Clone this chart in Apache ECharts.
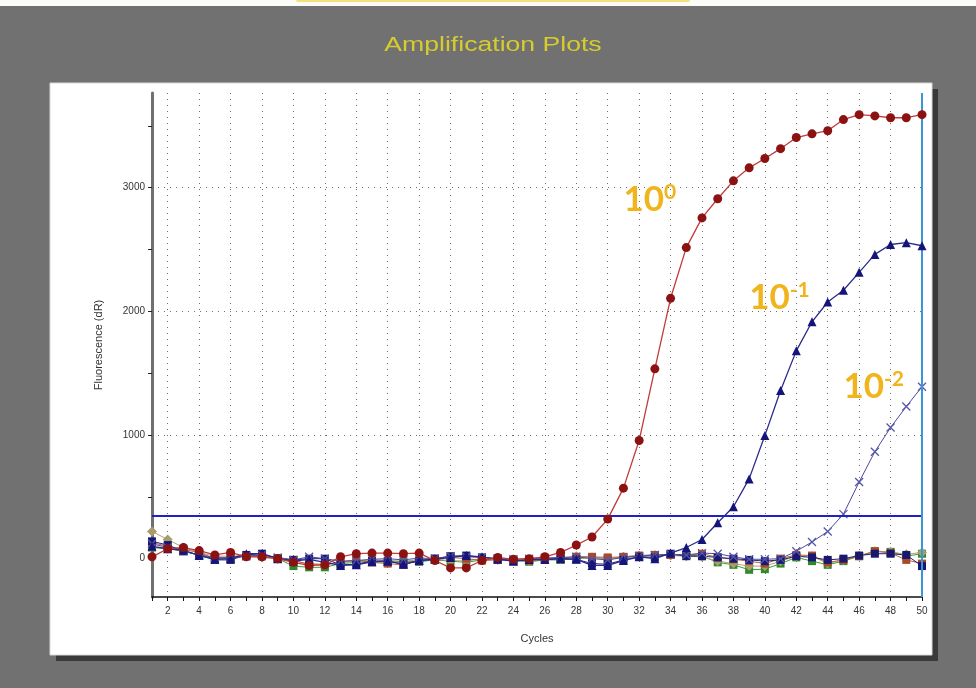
<!DOCTYPE html>
<html>
<head>
<meta charset="utf-8">
<title>Amplification Plots</title>
<script src="https://cdn.jsdelivr.net/npm/echarts@6/dist/echarts.min.js"></script>
<style>
  html, body { margin: 0; padding: 0; background: #717171; }
  #chart { width: 976px; height: 688px; }
</style>
</head>
<body>
<div id="chart"></div>
<script>
// cycles on the x axis
var cycles = ['1', '2', '3', '4', '5', '6', '7', '8', '9', '10',
  '11', '12', '13', '14', '15', '16', '17', '18', '19', '20',
  '21', '22', '23', '24', '25', '26', '27', '28', '29', '30',
  '31', '32', '33', '34', '35', '36', '37', '38', '39', '40',
  '41', '42', '43', '44', '45', '46', '47', '48', '49', '50']

var yLabelValues = [0, 1000, 2000, 3000]
var yTickValues = [0, 500, 1000, 1500, 2000, 2500, 3000, 3500]
var threshold = 350

// 10^0 dilution (red circles)
var dil0 = [15, 80, 90, 65, 30, 50, 15, 15, 0, -30,
  -55, -50, 15, 40, 45, 45, 40, 45, -15, -75,
  -75, -15, 10, -5, 0, 15, 50, 110, 175, 320,
  570, 955, 1535, 2105, 2515, 2755, 2910, 3055, 3160, 3235,
  3315, 3405, 3435, 3460, 3550, 3590, 3580, 3565, 3565, 3590]

// 10^-1 dilution (navy triangles)
var dil1 = [100, 80, 70, 25, -5, 0, 40, 40, 0, -20,
  -5, -30, -55, -50, -25, -20, -45, -15, -5, 10,
  25, 15, -5, -20, -5, -5, 0, -5, -55, -55,
  -15, 15, 0, 45, 90, 155, 290, 420, 645, 995,
  1360, 1680, 1915, 2075, 2170, 2315, 2460, 2540, 2555, 2530]

// 10^-2 dilution (crosses)
var dil2 = [120, 90, 60, 30, 10, 5, 20, 30, 10, -10,
  15, 0, -20, -15, -5, 0, -10, 5, 0, 20,
  15, 10, 0, -5, 0, 5, 10, 15, 0, -10,
  10, 20, 30, 35, 30, 45, 40, 15, -5, -5,
  0, 60, 135, 220, 360, 620, 865, 1060, 1230, 1390]

// negative wells
var ntcGreen = [90, 80, 60, 30, 0, 10, 20, 20, 0, -60,
  -70, -70, -40, -30, -20, -30, -20, -25, -10, -20,
  -30, -10, 0, -15, -25, -10, -10, 0, 10, 0,
  10, 20, 25, 30, 30, 20, -30, -50, -90, -85,
  -40, 10, -20, -50, -20, 20, 60, 55, 20, 40]

var ntcKhaki = [220, 155, 90, 50, 20, 20, 25, 10, 0, -20,
  -40, -45, -30, -20, -10, -15, -20, -10, -5, -15,
  -20, 0, -10, -15, -20, -5, -5, 20, 10, -5,
  15, 25, 30, 25, 20, 15, -20, -40, -60, -60,
  -20, 20, 20, -40, -10, 25, 60, 55, 35, 50]

var ntcBrown = [130, 100, 75, 50, 0, 10, 20, 20, 5, -10,
  -50, -50, -30, -10, -30, -40, -50, -10, 0, 10,
  0, -15, -10, -10, -15, 0, 5, 15, 15, 10,
  15, 25, 30, 30, 25, 40, 10, -5, -20, -40,
  0, 30, 25, -30, -10, 20, 60, 45, -10, -40]

var ntcNavy = [140, 110, 60, 30, -10, -10, 30, 40, 0, -10,
  0, 0, -50, -45, -20, -20, -45, -20, 0, 20,
  25, 10, 0, -20, -10, -10, 0, -5, -40, -45,
  -10, 15, 10, 40, 20, 20, 10, 0, -10, -20,
  -10, 20, 10, -10, 0, 25, 40, 40, 30, -60]

var gold = '#f0b41c'
var gridDots = { color: '#6e6e6e', type: [1, 5], width: 1 }
var crossPath = 'path://M0,0L10,10M10,0L0,10'

function curve(name, data, symbol, size, fill, line) {
  return {
    name: name,
    type: 'line',
    data: data,
    symbol: symbol,
    symbolSize: size,
    showSymbol: true,
    animation: false,
    itemStyle: { color: fill },
    lineStyle: { color: line, width: 1 }
  }
}

function dilutionLabel(coord, power) {
  return {
    symbol: 'circle',
    symbolSize: 1,
    itemStyle: { color: 'rgba(0,0,0,0)' },
    label: {
      show: true,
      position: 'inside',
      align: 'left',
      verticalAlign: 'middle',
      formatter: '{a|10}{b|' + power + '}',
      rich: {
        a: { fontSize: 35, fontWeight: 'bold', color: gold, fontFamily: 'Lato', lineHeight: 36 },
        b: { fontSize: 21, fontWeight: 'bold', color: gold, fontFamily: 'Lato', verticalAlign: 'top' }
      }
    },
    data: [{ coord: coord }]
  }
}

var s0 = curve('10^0', dil0, 'circle', 9, '#8c1212', '#c23a3a')
s0.z = 6
s0.lineStyle.width = 1.3
s0.markPoint = dilutionLabel(['31', 2900], '0')

var s1 = curve('10^-1', dil1, 'triangle', 9, '#14147a', '#2a2a8a')
s1.z = 5
s1.lineStyle.width = 1.3
s1.markPoint = dilutionLabel(['39', 2108], '-1')

var s2 = curve('10^-2', dil2, crossPath, 8, 'rgba(0,0,0,0)', '#4a4aa0')
s2.itemStyle = { color: 'rgba(0,0,0,0)', borderColor: '#5656aa', borderWidth: 1.3 }
s2.z = 4
s2.markPoint = dilutionLabel(['45', 1388], '-2')

var g1 = curve('NTC 1', ntcGreen, 'rect', 8, '#2f8a2a', '#3f9a3a')
g1.markLine = {
  silent: true,
  symbol: 'none',
  label: { show: false },
  lineStyle: gridDots,
  data: [{ yAxis: 1000 }, { yAxis: 2000 }, { yAxis: 3000 }]
}
var g2 = curve('NTC 2', ntcKhaki, 'diamond', 10, '#a89c6c', '#b0a478')
var g3 = curve('NTC 3', ntcBrown, 'rect', 8, '#a84a2a', '#b86040')
var g4 = curve('NTC 4', ntcNavy, 'rect', 8, '#181870', '#202080')
g4.markLine = {
  silent: true,
  symbol: 'none',
  label: { show: false },
  data: [
    { yAxis: threshold, lineStyle: { color: '#2020c8', width: 2, type: 'solid' } },
    { xAxis: '50', lineStyle: { color: '#3b96d6', width: 2, type: 'solid' } }
  ]
}

var chart = echarts.init(document.getElementById('chart'))
chart.setOption({
  backgroundColor: '#717171',
  animation: false,
  graphic: [
    { type: 'rect', z: -3, shape: { x: 0, y: 0, width: 976, height: 6 }, style: { fill: '#fbfbf8' } },
    { type: 'rect', z: -2, shape: { x: 296, y: -2, width: 394, height: 4, r: 2 }, style: { fill: '#f6e07a' } },
    { type: 'rect', z: -3, shape: { x: 56, y: 89, width: 882, height: 572 }, style: { fill: '#3a3a3a' } },
    { type: 'rect', z: -2, shape: { x: 50, y: 83, width: 882, height: 572 }, style: { fill: '#ffffff', stroke: '#d8d8d8', lineWidth: 1 } },
    {
      type: 'text', x: 493, y: 45, scaleX: 1.33,
      style: {
        text: 'Amplification Plots', fill: '#d6cc2e',
        font: '20px "Liberation Sans", Arial, sans-serif',
        textAlign: 'center', textVerticalAlign: 'middle'
      }
    }
  ],
  grid: { left: 152, right: 54, top: 93, bottom: 91 },
  xAxis: {
    type: 'category',
    data: cycles,
    boundaryGap: false,
    name: 'Cycles',
    nameLocation: 'middle',
    nameGap: 36,
    nameTextStyle: { color: '#333', fontSize: 11, fontFamily: 'Liberation Sans' },
    axisLine: { onZero: false, lineStyle: { color: '#111', width: 1.5 } },
    axisTick: { interval: 0, length: 4, lineStyle: { color: '#111' } },
    axisLabel: {
      interval: function (idx) { return idx % 2 === 1 },
      color: '#333', fontSize: 10, margin: 9, fontFamily: 'Liberation Sans'
    },
    splitLine: {
      show: true,
      interval: function (idx) { return idx % 2 === 1 && idx < 49 },
      lineStyle: gridDots
    }
  },
  yAxis: {
    type: 'value',
    min: -310,
    max: 3765,
    name: 'Fluorescence (dR)',
    nameLocation: 'middle',
    nameGap: 48,
    nameTextStyle: { color: '#333', fontSize: 11, fontFamily: 'Liberation Sans' },
    axisLine: { show: true, lineStyle: { color: '#707070', width: 3 } },
    axisTick: { show: true, customValues: yTickValues, length: 4, lineStyle: { color: '#222' } },
    axisLabel: {
      customValues: yLabelValues,
      formatter: function (v) { return String(v) },
      color: '#333', fontSize: 10, margin: 7, fontFamily: 'Liberation Sans'
    },
    splitLine: { show: false }
  },
  series: [g1, g2, g3, g4, s2, s1, s0]
})
</script>
</body>
</html>
